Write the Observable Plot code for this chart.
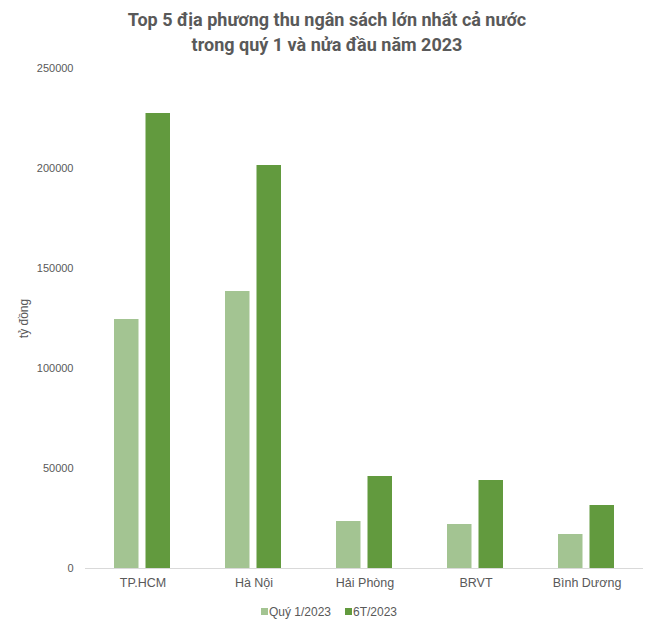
<!DOCTYPE html>
<html>
<head>
<meta charset="utf-8">
<script src="https://cdn.jsdelivr.net/npm/d3@7"></script>
<script src="https://cdn.jsdelivr.net/npm/@observablehq/plot@0.6"></script>
<style>
  html, body { margin: 0; padding: 0; background: #fff; }
  #wrap { width: 654px; }
  #title { height: 60px; box-sizing: border-box; padding-top: 7px; text-align: center;
    font-family: "Liberation Sans Narrow", "Roboto", sans-serif; font-weight: bold; font-size: 18px;
    line-height: 25px; color: #595959; }
  #legend { height: 24px; display: flex; justify-content: center; align-items: center; gap: 14px;
    font-family: "Liberation Sans", Arial, sans-serif; font-size: 12px; color: #595959; padding-left: 4px; }
  #legend span.sw { display: inline-block; width: 7px; height: 7px; margin-right: 1px; vertical-align: middle; position: relative; top: -1px; }
</style>
</head>
<body>
<div id="wrap">
  <div id="title">Top 5 địa phương thu ngân sách lớn nhất cả nước<br>trong quý 1 và nửa đầu năm 2023</div>
  <div id="chart"></div>
  <div id="legend"></div>
</div>
<script>
const regions = ["TP.HCM", "Hà Nội", "Hải Phòng", "BRVT", "Bình Dương"];
const seriesNames = ["Quý 1/2023", "6T/2023"];
const q1Values = [124500, 138500, 23500, 22000, 17000];
const h1Values = [227500, 201500, 46000, 44000, 31500];
const yTicks = [0, 50000, 100000, 150000, 200000, 250000];
const colors = ["#A3C492", "#629A3E"];

const q1Data = regions.map((r, i) => ({region: r, series: seriesNames[0], value: q1Values[i]}));
const h1Data = regions.map((r, i) => ({region: r, series: seriesNames[1], value: h1Values[i]}));

const chart = Plot.plot({
  width: 654,
  height: 540,
  marginTop: 8,
  marginBottom: 32,
  marginLeft: 85,
  marginRight: 11,
  style: { fontFamily: "'Liberation Sans', Arial, sans-serif", color: "#595959", background: "#fff" },
  x: { domain: regions, padding: 0, label: null },
  y: { domain: [0, 250000], ticks: yTicks, label: null },
  color: { domain: seriesNames, range: colors },
  marks: [
    Plot.axisY({ ticks: yTicks, tickSize: 0, tickPadding: 12, tickFormat: d3.format("d"), fontSize: 11, label: null }),
    Plot.axisY({ ticks: [], tickSize: 0, fontSize: 12, label: "tỷ đồng", labelAnchor: "center", labelOffset: 66, labelArrow: "none" }),
    Plot.axisX({ tickSize: 0, tickPadding: 10, fontSize: 12.5, label: null }),
    Plot.barY(q1Data, { x: "region", y: "value", fill: "series", insetLeft: 27, insetRight: 59.5 }),
    Plot.barY(h1Data, { x: "region", y: "value", fill: "series", insetLeft: 58.5, insetRight: 28 }),
    Plot.ruleY([0], { stroke: "#D9D9D9", strokeWidth: 1 })
  ]
});
document.getElementById("chart").appendChild(chart);

const legend = document.getElementById("legend");
seriesNames.forEach((s, i) => {
  const item = document.createElement("span");
  const sw = document.createElement("span");
  sw.className = "sw";
  sw.style.background = colors[i];
  item.appendChild(sw);
  item.appendChild(document.createTextNode(s));
  legend.appendChild(item);
});
</script>
</body>
</html>
